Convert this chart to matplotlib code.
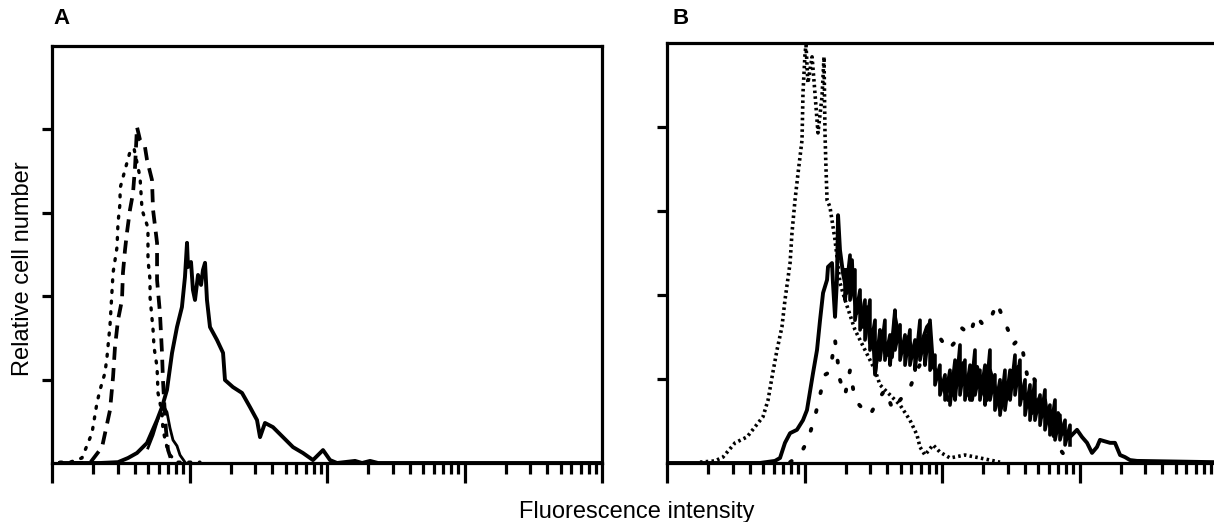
import numpy as np
import matplotlib
matplotlib.use("Agg")
import matplotlib.pyplot as plt
from matplotlib.ticker import LogLocator, NullFormatter

plt.rcParams["font.family"] = ["Liberation Sans", "DejaVu Sans"]

# panel A: log10 fluorescence intensity / relative cell number (0-100)
a_dot_log = [0.058, 0.131, 0.218, 0.291, 0.327, 0.349, 0.385, 0.400, 0.422, 0.436, 0.444, 0.473,
             0.480, 0.495, 0.495, 0.531, 0.567, 0.596, 0.640, 0.655, 0.698, 0.698, 0.713, 0.713,
             0.735, 0.742, 0.764, 0.771, 0.800, 0.807, 0.836, 0.858, 0.909, 1.076]
a_dot_cnt = [0.2, 0.2, 1.2, 7.2, 14.4, 17.5, 21.6, 25.4, 33.1, 41.0, 45.6, 51.8,
             57.6, 62.4, 65.9, 70.3, 74.6, 75.5, 68.6, 60.7, 56.4, 48.7, 43.9, 39.8,
             31.9, 27.8, 23.0, 16.8, 12.0, 7.9, 3.8, 1.9, 0.2, 0.2]

a_dash_log = [0.131, 0.276, 0.364, 0.422, 0.444, 0.458, 0.480, 0.509, 0.516, 0.531, 0.545, 0.567,
              0.589, 0.604, 0.618, 0.640, 0.676, 0.691, 0.727, 0.735, 0.764, 0.764, 0.785, 0.800,
              0.807, 0.815, 0.829, 0.844, 0.873]
a_dash_cnt = [0.0, 0.0, 3.8, 12.7, 20.6, 27.8, 34.3, 39.1, 45.6, 51.1, 55.2, 60.7,
              64.7, 71.0, 80.6, 77.5, 75.8, 72.7, 67.9, 60.7, 52.8, 43.9, 36.0, 26.4,
              19.9, 15.1, 7.9, 3.1, 0.2]

a_bump_log = [0.698, 0.735, 0.764, 0.793, 0.815, 0.836, 0.858, 0.880, 0.909, 0.931, 0.967]
a_bump_cnt = [3.6, 6.7, 9.8, 12.7, 13.4, 12.2, 8.4, 5.5, 4.1, 1.9, 0.2]

a_solid_log = [0.058, 0.349, 0.480, 0.553, 0.618, 0.691, 0.764, 0.800, 0.836, 0.873, 0.909, 0.945,
               0.967, 0.982, 0.989, 1.011, 1.025, 1.040, 1.062, 1.084, 1.098, 1.113, 1.127, 1.149,
               1.200, 1.244, 1.258, 1.316, 1.382, 1.440, 1.491, 1.513, 1.549, 1.607, 1.680, 1.753,
               1.825, 1.898, 1.971, 2.022, 2.073, 2.204, 2.255, 2.313, 2.371, 4.0]
a_solid_cnt = [0.0, 0.0, 0.2, 1.2, 2.4, 4.8, 10.3, 13.4, 17.5, 26.4, 32.6, 37.4,
               44.6, 52.8, 47.0, 48.2, 41.5, 39.1, 45.1, 42.7, 46.3, 48.0, 39.1, 32.6,
               29.5, 26.4, 19.9, 18.2, 16.8, 13.4, 10.3, 6.2, 9.6, 8.6, 6.2, 3.8,
               2.4, 0.7, 3.1, 0.7, 0.0, 0.5, 0.0, 0.5, 0.0, 0.0]

# panel B
b_dot_log = [0.240, 0.349, 0.407, 0.495, 0.582, 0.640, 0.698, 0.735, 0.764, 0.800, 0.836, 0.858,
             0.895, 0.909, 0.931, 0.953, 0.982, 0.989, 1.004, 1.011, 1.025, 1.055, 1.076, 1.098,
             1.127, 1.142, 1.149, 1.156, 1.164, 1.185, 1.222, 1.258, 1.295, 1.367, 1.440, 1.513,
             1.549, 1.622, 1.695, 1.767, 1.818, 1.840, 1.876, 1.935, 1.985, 2.058, 2.167, 2.276,
             2.422]
b_dot_cnt = [0.2, 0.5, 1.4, 4.8, 6.2, 8.6, 11.0, 15.0, 20.5, 26.9, 32.4, 38.8,
             47.6, 54.8, 62.6, 69.0, 76.9, 88.1, 97.6, 99.5, 90.5, 96.7, 88.1, 78.6,
             87.1, 96.7, 78.6, 70.5, 62.6, 61.0, 53.1, 42.9, 38.8, 31.7, 26.9, 22.1,
             18.6, 16.2, 13.8, 10.2, 6.7, 3.8, 1.9, 4.3, 2.6, 1.2, 1.9, 1.2,
             0.2]

b_sparse_log = [0.895, 0.967, 1.025, 1.076, 1.113, 1.149, 1.185, 1.222, 1.258, 1.295, 1.331, 1.367,
                1.418, 1.476, 1.535, 1.585, 1.644, 1.695, 1.767, 1.804, 1.855, 1.913, 1.985, 2.044,
                2.095, 2.145, 2.204, 2.247, 2.298, 2.349, 2.400, 2.444, 2.480, 2.516, 2.553, 2.589,
                2.625, 2.662, 2.713, 2.771, 2.822, 2.873, 2.931]
b_sparse_cnt = [0.2, 1.9, 5.5, 11.0, 16.2, 21.0, 21.7, 29.3, 19.8, 16.2, 22.1, 15.0,
                13.1, 11.4, 15.0, 17.4, 12.6, 15.0, 17.9, 21.0, 24.5, 28.1, 29.8, 26.9,
                28.8, 32.1, 30.5, 35.2, 32.9, 34.0, 38.1, 34.5, 31.7, 28.1, 29.3, 26.4,
                19.8, 21.0, 15.0, 10.2, 5.5, 2.6, 0.2]

b_solid_log = [0.0, 0.676, 0.785, 0.822, 0.858, 0.895, 0.945, 0.989, 1.018, 1.062, 1.091, 1.113,
               1.135, 1.164, 1.171, 1.200, 1.207, 1.222, 1.236, 1.244, 1.258, 1.280, 1.309, 1.345,
               1.353, 1.382, 1.404, 1.425, 1.455, 1.476, 1.498, 1.513, 1.535, 1.564, 1.585, 1.636,
               1.658, 1.680, 1.716, 1.753, 1.789, 1.840, 1.891, 1.913, 1.935, 1.971, 2.007, 2.044,
               2.080, 2.116, 2.153, 2.182, 2.218, 2.255, 2.291, 2.327, 2.349, 2.385, 2.422, 2.458,
               2.495, 2.531, 2.553, 2.582, 2.618, 2.655, 2.691, 2.727, 2.749, 2.771, 2.807, 2.844,
               2.880, 2.931, 2.982, 3.018, 3.055, 3.091, 3.127, 3.149, 3.222, 3.258, 3.295, 3.331,
               3.367, 3.418, 3.978]
b_solid_cnt = [0.0, 0.0, 0.5, 1.2, 4.8, 7.1, 7.9, 10.2, 12.6, 21.4, 26.9, 34.0,
               40.5, 43.6, 46.7, 47.6, 42.9, 34.8, 43.6, 59.0, 50.7, 45.2, 40.5, 48.3,
               41.2, 35.7, 38.8, 32.4, 37.1, 28.6, 31.7, 21.4, 27.6, 31.0, 26.2, 25.2,
               34.8, 31.0, 26.9, 30.0, 26.2, 27.6, 32.4, 33.3, 22.9, 21.4, 18.1, 15.0,
               16.7, 19.0, 23.8, 16.7, 15.0, 22.9, 17.4, 15.0, 22.1, 18.1, 12.6, 15.0,
               17.4, 21.4, 22.9, 15.7, 15.0, 11.9, 15.0, 11.0, 15.0, 10.2, 7.1, 11.9,
               7.1, 6.2, 7.9, 6.2, 4.8, 2.4, 3.8, 5.5, 4.8, 4.8, 1.9, 1.4,
               0.7, 0.5, 0.2]

# noisy band of the solid trace in B: upper and lower extent of the spikes
b_band_log = [1.295, 1.331, 1.367, 1.404, 1.440, 1.476, 1.513, 1.549, 1.585, 1.622, 1.658, 1.695,
              1.731, 1.767, 1.804, 1.840, 1.876, 1.913, 1.949, 1.985, 2.022, 2.058, 2.095, 2.131,
              2.167, 2.204, 2.240, 2.276, 2.313, 2.349, 2.385, 2.422, 2.458, 2.495, 2.531, 2.567,
              2.604, 2.640, 2.676, 2.713, 2.749, 2.785, 2.822, 2.858, 2.895, 2.931]
b_band_top = [46.0, 49.5, 46.0, 41.2, 38.8, 38.8, 34.0, 31.7, 34.0, 30.5, 36.4, 32.9,
              30.5, 31.7, 29.3, 34.0, 30.5, 34.0, 25.7, 23.3, 21.0, 22.1, 24.5, 28.1,
              24.5, 23.3, 26.9, 22.1, 23.3, 26.9, 21.0, 19.8, 22.1, 22.1, 25.7, 24.5,
              19.8, 18.6, 19.8, 16.2, 17.4, 13.8, 15.0, 11.4, 10.2, 9.0]
b_band_bottom = [38.8, 38.8, 34.0, 31.7, 29.3, 26.9, 21.0, 24.5, 24.5, 23.3, 26.9, 24.5,
                 23.3, 23.3, 22.1, 24.5, 23.3, 22.1, 18.6, 16.2, 15.0, 13.8, 15.0, 16.2,
                 15.0, 15.0, 16.2, 15.0, 13.8, 15.0, 12.6, 11.4, 12.6, 15.0, 16.2, 13.8,
                 11.4, 10.2, 10.2, 9.0, 7.9, 6.7, 5.5, 5.5, 4.3, 4.3]

y_ticks = [20, 40, 60, 80]


def style_axis(ax):
    ax.set_xscale("log")
    ax.set_xlim(1, 1e4)
    ax.set_ylim(0, 100)
    ax.xaxis.set_major_locator(LogLocator(base=10, numticks=10))
    ax.xaxis.set_minor_locator(LogLocator(base=10, subs=np.arange(2, 10), numticks=10))
    ax.xaxis.set_major_formatter(NullFormatter())
    ax.xaxis.set_minor_formatter(NullFormatter())
    ax.set_yticks(y_ticks)
    ax.set_yticklabels([])
    ax.tick_params(axis="x", which="major", direction="out", length=14.5, width=2.3)
    ax.tick_params(axis="x", which="minor", direction="out", length=8, width=2.3)
    ax.tick_params(axis="y", direction="out", length=7, width=2.3)
    for s in ax.spines.values():
        s.set_linewidth(2.3)


fig = plt.figure(figsize=(12.14, 5.22), dpi=100)
ax_a = fig.add_axes([52 / 1214, 59 / 522, 550 / 1214, 417 / 522])
ax_b = fig.add_axes([667 / 1214, 59 / 522, 550 / 1214, 420 / 522])

ax_a.plot(np.power(10, a_dot_log), a_dot_cnt, color="black", lw=2.4,
          linestyle=(0, (0.6, 2.6)), dash_capstyle="round")
ax_a.plot(np.power(10, a_dash_log), a_dash_cnt, color="black", lw=2.7,
          linestyle=(0, (3.5, 2.2)))
ax_a.plot(np.power(10, a_bump_log), a_bump_cnt, color="black", lw=2.0)
ax_a.plot(np.power(10, a_solid_log), a_solid_cnt, color="black", lw=2.8)
style_axis(ax_a)

ax_b.plot(np.power(10, b_dot_log), b_dot_cnt, color="black", lw=2.6,
          linestyle=(0, (0.7, 0.9)))
ax_b.plot(np.power(10, b_sparse_log), b_sparse_cnt, color="black", lw=2.8,
          linestyle=(0, (0.5, 4.5)), dash_capstyle="round")
ax_b.plot(np.power(10, b_solid_log), b_solid_cnt, color="black", lw=2.8)
# sawtooth between upper and lower spike extents
band_x = np.repeat(np.power(10, b_band_log), 2)
band_y = np.column_stack([b_band_top, b_band_bottom]).ravel()
ax_b.plot(band_x, band_y, color="black", lw=2.6)
style_axis(ax_b)

fig.text(53 / 1214, 1 - 18 / 522, "A", fontsize=16, fontweight="bold", ha="left", va="center")
fig.text(673 / 1214, 1 - 18 / 522, "B", fontsize=16, fontweight="bold", ha="left", va="center")
fig.text(23 / 1214, 1 - 269 / 522, "Relative cell number", fontsize=17, rotation=90,
         ha="center", va="center")
fig.text(637 / 1214, 1 - 518 / 522, "Fluorescence intensity", fontsize=17,
         ha="center", va="baseline")

fig.savefig("out.png", dpi=100)
plt.close(fig)
